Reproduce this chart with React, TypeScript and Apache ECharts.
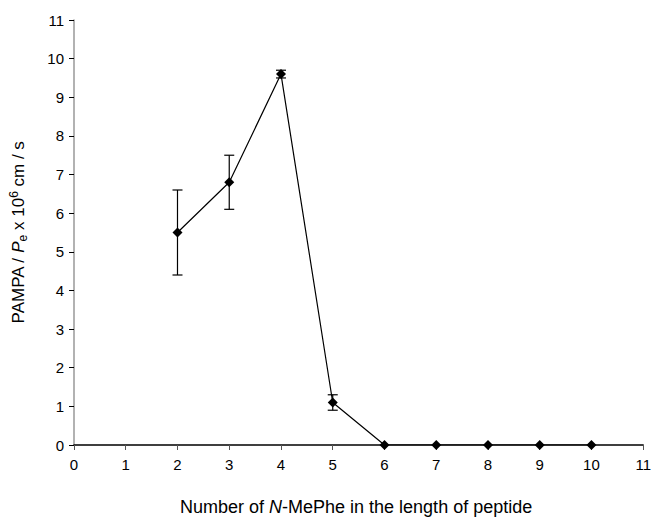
import React, { useEffect, useRef } from "react";
import * as echarts from "echarts";

const xValues = [2, 3, 4, 5, 6, 7, 8, 9, 10];
const yValues = [5.5, 6.8, 9.6, 1.1, 0, 0, 0, 0, 0];
const errLow = [4.4, 6.1, 9.5, 0.9, null, null, null, null, null];
const errHigh = [6.6, 7.5, 9.7, 1.3, null, null, null, null, null];

export default function App() {
  const ref = useRef<HTMLDivElement>(null);
  useEffect(() => {
    const chart = echarts.init(ref.current!, null, { renderer: "svg" });
    const font = "'Liberation Sans', Arial, sans-serif";
    const errData: any[] = [];
    xValues.forEach((x, i) => {
      if (errLow[i] != null) errData.push([x, errLow[i], errHigh[i]]);
    });
    chart.setOption({
      animation: false,
      backgroundColor: "#fff",
      grid: { left: 71, right: 7, top: 20, bottom: 73 },
      xAxis: {
        type: "value",
        min: 0,
        max: 11,
        interval: 1,
        splitLine: { show: false },
        axisLine: { onZero: false, lineStyle: { color: "#000", width: 1.5 } },
        axisTick: { show: true, length: 5, lineStyle: { color: "#555" } },
        axisLabel: { color: "#000", fontSize: 15, fontFamily: font, margin: 12 },
      },
      yAxis: {
        type: "value",
        min: 0,
        max: 11,
        interval: 1,
        splitLine: { show: false },
        axisLine: { show: true, lineStyle: { color: "#999", width: 1.5 } },
        axisTick: { show: true, length: 5, lineStyle: { color: "#000" } },
        axisLabel: { color: "#000", fontSize: 15, fontFamily: font, margin: 10 },
        name: "{n|PAMPA / }{i|P}{s|e}{n| x 10}{p|6}{n| cm / s}",
        nameLocation: "middle",
        nameRotate: 90,
        nameGap: 45,
        nameTextStyle: {
          rich: {
            n: { fontSize: 17, fontFamily: font, color: "#000" },
            i: { fontSize: 17, fontFamily: font, color: "#000", fontStyle: "italic" },
            s: { fontSize: 12, fontFamily: font, color: "#000", verticalAlign: "bottom", padding: [9, 0, 0, 0] },
            p: { fontSize: 12, fontFamily: font, color: "#000", verticalAlign: "top", padding: [0, 0, 9, 0] },
          },
        },
      },
      graphic: [
        {
          type: "text",
          left: 180,
          top: 498,
          style: {
            text: "{n|Number of }{i|N}{n|-MePhe in the length of peptide}",
            rich: {
              n: { fontSize: 18, fontFamily: font, fill: "#000" },
              i: { fontSize: 18, fontFamily: font, fill: "#000", fontStyle: "italic" },
            },
          },
        },
      ],
      series: [
        {
          type: "line",
          data: xValues.map((x, i) => [x, yValues[i]]),
          symbol: "diamond",
          symbolSize: 10,
          lineStyle: { color: "#000", width: 1.2 },
          itemStyle: { color: "#000" },
          z: 3,
        },
        {
          type: "custom",
          data: errData,
          z: 4,
          renderItem: (params: any, api: any) => {
            const x = api.value(0);
            const lo = api.coord([x, api.value(1)]);
            const hi = api.coord([x, api.value(2)]);
            const hw = 5;
            const style = { stroke: "#000", lineWidth: 1.2 };
            return {
              type: "group",
              children: [
                { type: "line", shape: { x1: lo[0], y1: lo[1], x2: hi[0], y2: hi[1] }, style },
                { type: "line", shape: { x1: lo[0] - hw, y1: lo[1], x2: lo[0] + hw, y2: lo[1] }, style },
                { type: "line", shape: { x1: hi[0] - hw, y1: hi[1], x2: hi[0] + hw, y2: hi[1] }, style },
              ],
            };
          },
        },
      ],
    });
    return () => chart.dispose();
  }, []);
  return <div ref={ref} style={{ width: 654, height: 518, position: "fixed", left: 0, top: 0 }} />;
}
